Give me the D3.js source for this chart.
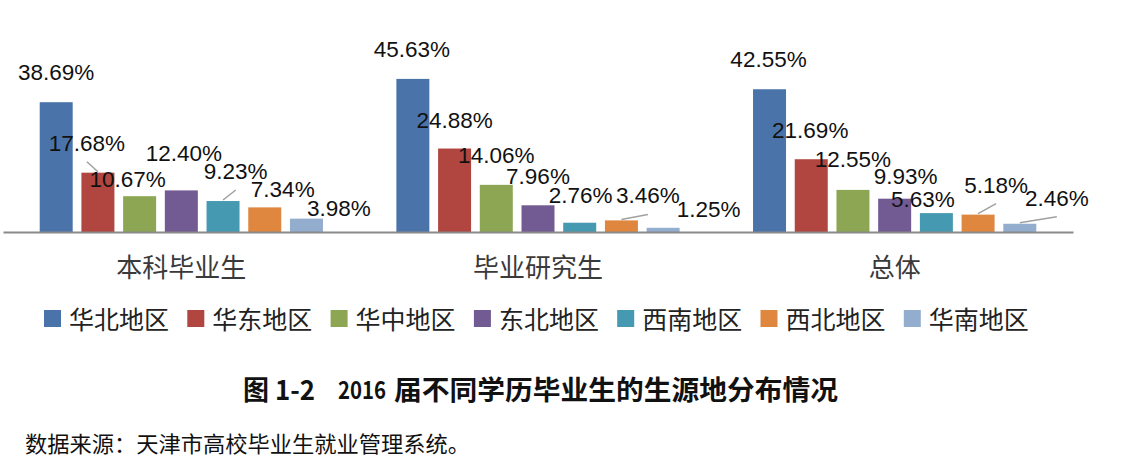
<!DOCTYPE html>
<html>
<head>
<meta charset="utf-8">
<script src="https://cdn.jsdelivr.net/npm/d3@7/dist/d3.min.js"></script>
<style>
  html, body { margin: 0; padding: 0; background: #ffffff; }
  svg { display: block; }
</style>
</head>
<body>
<svg id="chart" width="1122" height="466"></svg>
<script>
// ---------------- data ----------------
const categories = ["本科毕业生", "毕业研究生", "总体"];
const regions = ["华北地区", "华东地区", "华中地区", "东北地区", "西南地区", "西北地区", "华南地区"];
const valBenke   = [38.69, 17.68, 10.67, 12.40, 9.23, 7.34, 3.98];
const valYanjiu  = [45.63, 24.88, 14.06, 7.96, 2.76, 3.46, 1.25];
const valZongti  = [42.55, 21.69, 12.55, 9.93, 5.63, 5.18, 2.46];
const titleParts = ["图", "1-2", "2016", "届不同学历毕业生的生源地分布情况"];
const sourceText = "数据来源：天津市高校毕业生就业管理系统。";

// ---------------- layout / style (kept apart from data) ----------------
const colors = ["#4a74a9", "#b0463f", "#8ca653", "#725a93", "#4599b0", "#e0873f", "#93adcf"];
// label nudges (dx, dy) relative to default position centered above bar
const labelNudge = [
  [[0,0],[-11,0],[-12,13],[2.5,-7],[12.7,0],[18,12],[32.5,19]],
  [[-1,0],[0,1],[0,0],[0,1],[1,2],[26.5,5],[45.5,11]],
  [[-1,0],[-1,1],[0,-1],[11,7],[-13.5,16],[18,0],[37,4]]
];
const leaderFlags = [
  [false,true,false,false,true,false,false],
  [false,false,false,false,false,true,false],
  [false,false,false,false,false,true,true]
];
const titleX = [243, 275, 338, 394];
const titleLen = [26, 40, 48, 444];
const titleSize = [27, 27, 24, 27];

const allValues = [valBenke, valYanjiu, valZongti];
const rows = categories.map((c, i) => ({ cat: c, gi: i,
  bars: regions.map((r, j) => ({ region: r, j: j, v: allValues[i][j] })) }));

const svg = d3.select("#chart");

const axisY = 232;
const y = d3.scaleLinear().domain([0, 50]).range([axisY, axisY - 50 * 3.355]);
const x0 = d3.scaleBand().domain(categories).range([3, 1073]).paddingInner(0).paddingOuter(0);
const x1 = d3.scaleBand().domain(regions).range([0, x0.bandwidth()])
  .paddingInner(0.209).paddingOuter(0.88).align(0.5);
const color = d3.scaleOrdinal().domain(regions).range(colors);

// bars
const groups = svg.selectAll("g.grp").data(rows).join("g")
  .attr("class", "grp")
  .attr("transform", d => `translate(${x0(d.cat)},0)`);

groups.selectAll("rect").data(d => d.bars).join("rect")
  .attr("x", d => x1(d.region))
  .attr("y", d => y(d.v))
  .attr("width", x1.bandwidth())
  .attr("height", d => y(0) - y(d.v))
  .attr("fill", d => color(d.region));

// axis line (category axis)
const xAxis = d3.axisBottom(x0).tickSize(0).tickPadding(22);
const axG = svg.append("g").attr("transform", `translate(0,${axisY})`).call(xAxis);
axG.select(".domain").attr("stroke", "#8a8a8a").attr("stroke-width", 2);
axG.selectAll(".tick text")
  .attr("font-family", "'Noto Sans CJK SC', sans-serif")
  .attr("font-size", 26)
  .attr("fill", "#3a3a3a")
  .attr("dy", null)
  .attr("y", 33)
  .attr("dominant-baseline", "central");

// leader lines
groups.each(function(g) {
  const gs = d3.select(this);
  g.bars.forEach(b => {
    const nd = labelNudge[g.gi][b.j];
    const cx = x1(b.region) + x1.bandwidth() / 2;
    const lx = cx + nd[0];
    const ly = y(b.v) - 22 + nd[1];
    if (leaderFlags[g.gi][b.j]) {
      gs.append("line")
        .attr("x1", cx).attr("y1", y(b.v) - 1)
        .attr("x2", lx).attr("y2", ly + 11)
        .attr("stroke", "#a0a0a0").attr("stroke-width", 1.5);
    }
  });
});

// data labels
groups.selectAll("text.lbl").data(d => d.bars.map(b => Object.assign({ gi: d.gi }, b))).join("text")
  .attr("class", "lbl")
  .attr("x", d => x1(d.region) + x1.bandwidth() / 2 + labelNudge[d.gi][d.j][0])
  .attr("y", d => y(d.v) - 22 + labelNudge[d.gi][d.j][1])
  .attr("text-anchor", "middle")
  .attr("font-family", "'Liberation Sans', Arial, sans-serif")
  .attr("font-size", 22.5)
  .attr("fill", "#111")
  .text(d => d.v.toFixed(2) + "%");

// legend
const legStep = 143.3;
const leg = svg.append("g").attr("transform", "translate(44,0)");
const li = leg.selectAll("g").data(regions).join("g")
  .attr("transform", (d, i) => `translate(${i * legStep},0)`);
li.append("rect").attr("x", 0).attr("y", 310).attr("width", 17).attr("height", 17)
  .attr("fill", d => color(d));
li.append("text").attr("x", 25).attr("y", 318)
  .attr("dominant-baseline", "central")
  .attr("font-family", "'Noto Sans CJK SC', sans-serif")
  .attr("font-size", 25)
  .attr("fill", "#222")
  .text(d => d);

// title (pieces placed to reproduce the wide spacing of the original)
svg.selectAll("text.title").data(titleParts).join("text")
  .attr("class", "title")
  .attr("x", (d, i) => titleX[i])
  .attr("y", 388)
  .attr("dominant-baseline", "central")
  .attr("font-family", "'Noto Sans CJK SC', sans-serif")
  .attr("font-weight", "bold")
  .attr("font-size", (d, i) => titleSize[i])
  .attr("fill", "#111")
  .attr("textLength", (d, i) => titleLen[i])
  .attr("lengthAdjust", "spacingAndGlyphs")
  .text(d => d);

// source
svg.append("text")
  .attr("x", 25).attr("y", 442)
  .attr("dominant-baseline", "central")
  .attr("font-family", "'Noto Sans CJK SC', serif")
  .attr("font-size", 22)
  .attr("fill", "#111")
  .attr("textLength", 445)
  .attr("lengthAdjust", "spacingAndGlyphs")
  .text(sourceText);
</script>
</body>
</html>
